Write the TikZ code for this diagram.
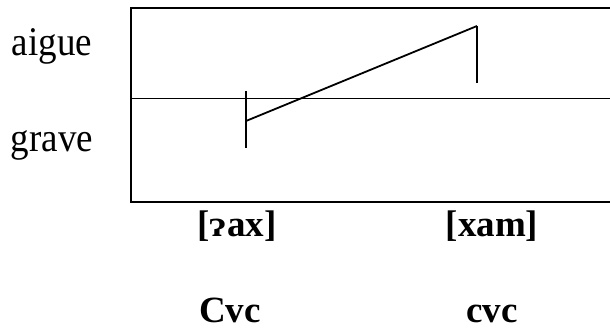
\documentclass[tikz,border=0pt]{standalone}
\usepackage{fontspec}
\setmainfont{Liberation Serif}
\tikzset{
  lbl/.style={inner sep=0pt, anchor=base, font=\fontsize{37}{40}\selectfont},
  blbl/.style={inner sep=0pt, anchor=base, font=\fontsize{37}{40}\selectfont\bfseries},
  frame/.style={line width=1.4pt},
  midline/.style={line width=1pt},
  contour/.style={line width=1.8pt},
}
\begin{document}
\begin{tikzpicture}[x=1pt,y=-1pt]
\useasboundingbox (0,0) rectangle (610,336);
\draw[frame] (612,8) -- (131,8) -- (131,202) -- (612,202);
\draw[midline] (131,99) -- (612,99);
\coordinate (l1) at (246,91);
\coordinate (l2) at (246,148);
\coordinate (ls) at (246,121);
\coordinate (r1) at (477,26);
\coordinate (r2) at (477,83);
\draw[contour] (l1) -- (l2);
\draw[contour] (r1) -- (r2);
\draw[contour] (ls) -- (r1);
\node[lbl] (aigue) at (52,56) {\scalebox{1}[1.1]{aigue}};
\node[lbl] (grave) at (52,152) {\scalebox{1}[1.1]{grave}};
\node[blbl] (w1) at (237,237) {[ɂax]};
\node[blbl] (w2) at (492,237) {[xam]};
\node[blbl] (p1) at (230,323) {Cvc};
\node[blbl] (p2) at (492,323) {cvc};
\end{tikzpicture}
\end{document}
